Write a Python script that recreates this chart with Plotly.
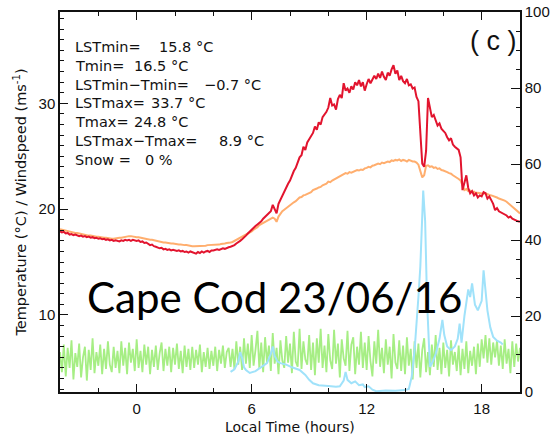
import plotly.graph_objects as go

# ---------------- data ----------------
hours = [round(-4 + 0.1 * i, 1) for i in range(241)]

lst = [
    17.9, 17.8, 17.85, 17.7, 17.75, 17.6, 17.65, 17.55, 17.6, 17.5,
    17.45, 17.5, 17.4, 17.45, 17.35, 17.4, 17.3, 17.35, 17.25, 17.3,
    17.2, 17.25, 17.15, 17.2, 17.1, 17.15, 17.05, 17.1, 17.0, 17.05,
    17.0, 16.95, 17.05, 17.0, 17.1, 17.05, 17.1, 17.0, 17.1, 17.05,
    17.0, 17.05, 16.9, 16.95, 16.8, 16.85, 16.7, 16.6, 16.65, 16.5,
    16.45, 16.35, 16.3, 16.35, 16.2, 16.25, 16.15, 16.2, 16.1, 16.15,
    16.1, 16.05, 16.1, 16.0, 16.05, 15.95, 16.0, 15.9, 16.0, 15.95,
    15.9, 15.8, 15.95, 15.85, 16.0, 15.9, 16.0, 16.05, 15.95, 16.1,
    16.1, 16.15, 16.2, 16.15, 16.25, 16.3, 16.25, 16.35, 16.4, 16.45,
    16.5, 16.6, 16.75, 16.85, 17.0, 17.15, 17.3, 17.5, 17.7, 17.9,
    18.05, 18.2, 18.4, 18.55, 18.7, 18.85, 19.1, 19.3, 19.5, 19.6,
    19.8, 20.4, 20.0, 19.6, 20.5, 20.9, 21.3, 21.6, 22.1, 22.4,
    22.7, 23.2, 23.6, 23.9, 24.5, 24.9, 25.1, 25.9, 25.6, 26.3,
    26.6, 26.9, 27.2, 27.8, 27.5, 28.2, 28.0, 28.7, 28.9, 29.2,
    29.6, 30.5, 29.8, 29.9, 29.4, 30.4, 30.8, 30.5, 31.9, 31.2,
    31.4, 31.0, 31.6, 31.3, 32.0, 31.7, 32.2, 31.6, 32.0, 31.2,
    31.8, 32.3, 31.9, 32.2, 32.6, 32.3, 32.8, 32.4, 33.0, 32.5,
    32.2, 32.9, 32.6, 33.2, 33.6, 32.8, 33.1, 32.2, 32.6, 32.1,
    31.9, 32.3, 31.7, 31.8, 31.4, 31.5, 30.6, 30.2, 27.2, 24.3,
    24.0, 25.5, 30.5, 29.6, 28.7, 28.9, 28.3, 27.9, 28.1, 27.6,
    27.4, 27.2, 26.8, 26.5, 26.7, 26.1, 25.9, 25.7, 25.6, 24.9,
    21.8, 22.5, 23.2, 22.0, 21.5, 21.7, 21.3, 21.5, 21.1, 21.3,
    21.2, 21.6, 21.5, 21.0, 21.2, 20.85, 20.5, 19.9, 20.1, 19.8,
    19.7, 19.6, 19.5, 19.4, 19.2, 19.3, 19.1, 19.0, 18.9, 18.85,
    18.8,
]

tair = [
    18.1, 18.05, 18.0, 17.95, 17.9, 17.85, 17.85, 17.8, 17.75, 17.75,
    17.7, 17.65, 17.6, 17.6, 17.55, 17.5, 17.5, 17.45, 17.4, 17.4,
    17.4, 17.35, 17.35, 17.3, 17.3, 17.25, 17.2, 17.2, 17.2, 17.25,
    17.25, 17.3, 17.3, 17.35, 17.4, 17.45, 17.45, 17.45, 17.4, 17.4,
    17.35, 17.35, 17.3, 17.3, 17.25, 17.2, 17.15, 17.1, 17.1, 17.05,
    17.0, 16.95, 16.95, 16.9, 16.85, 16.85, 16.8, 16.8, 16.75, 16.75,
    16.7, 16.7, 16.65, 16.65, 16.6, 16.6, 16.6, 16.55, 16.55, 16.5,
    16.5, 16.5, 16.5, 16.5, 16.55, 16.55, 16.55, 16.6, 16.6, 16.6,
    16.6, 16.6, 16.65, 16.65, 16.7, 16.7, 16.75, 16.8, 16.8, 16.85,
    16.9, 17.0, 17.05, 17.2, 17.25, 17.35, 17.45, 17.55, 17.65, 17.8,
    17.9, 18.05, 18.15, 18.3, 18.5, 18.6, 18.7, 18.85, 18.95, 19.05,
    19.1, 19.2, 19.1, 18.8, 19.3, 19.6, 19.8, 19.95, 20.1, 20.25,
    20.4, 20.5, 20.65, 20.75, 20.9, 21.1, 21.15, 21.3, 21.35, 21.45,
    21.55, 21.6, 21.8, 21.85, 21.95, 22.05, 22.1, 22.25, 22.3, 22.4,
    22.6, 22.55, 22.7, 22.8, 22.9, 23.0, 23.1, 23.15, 23.3, 23.4,
    23.35, 23.5, 23.45, 23.55, 23.6, 23.7, 23.65, 23.75, 23.7, 23.85,
    23.9, 24.0, 23.95, 24.1, 24.15, 24.2, 24.3, 24.25, 24.4, 24.35,
    24.45, 24.5, 24.45, 24.6, 24.55, 24.65, 24.6, 24.7, 24.55, 24.65,
    24.6, 24.5, 24.65, 24.55, 24.5, 24.5, 24.4, 24.2, 23.5, 23.0,
    23.2, 24.1, 24.15, 24.0, 24.05, 23.9, 23.95, 23.8, 23.85, 23.7,
    23.65, 23.6, 23.5, 23.4, 23.35, 23.2, 23.1, 23.0, 22.85, 22.7,
    22.2, 21.8, 21.9, 21.7, 21.75, 21.6, 21.65, 21.5, 21.55, 21.5,
    21.5, 21.45, 21.5, 21.4, 21.35, 21.3, 21.25, 21.2, 21.1, 21.0,
    20.95, 20.85, 20.8, 20.7, 20.55, 20.4, 20.25, 20.1, 19.9, 19.75,
    19.6,
]

wind = [
    6.5, 4.6, 7.2, 4.2, 6.9, 5.0, 7.6, 3.9, 6.4, 5.1,
    7.3, 4.1, 6.0, 7.0, 3.8, 6.7, 4.8, 7.8, 4.5, 6.5,
    5.2, 7.2, 4.4, 6.8, 4.9, 7.5, 5.3, 4.6, 7.0, 5.0,
    6.6, 4.5, 7.5, 5.2, 6.9, 4.4, 7.4, 5.5, 6.8, 4.7,
    7.7, 5.0, 6.6, 4.6, 7.2, 5.3, 7.0, 4.4, 6.7, 5.1,
    7.1, 4.8, 6.4, 7.4, 4.7, 6.8, 5.2, 7.0, 4.6, 6.9,
    5.3, 7.3, 4.9, 6.6, 4.5, 7.1, 5.1, 6.8, 4.8, 7.0,
    5.0, 6.7, 5.3, 7.2, 4.6, 6.5, 5.1, 6.9, 4.9, 6.6,
    5.2, 7.0, 4.7, 6.7, 5.4, 7.1, 5.0, 6.5, 6.9, 5.1,
    6.8, 4.9, 7.5, 5.3, 7.0, 4.8, 7.8, 5.4, 7.3, 5.0,
    8.1, 5.2, 6.7, 8.5, 4.9, 7.4, 4.6, 7.9, 5.5, 7.1,
    4.7, 8.3, 5.4, 6.9, 4.4, 7.6, 5.7, 5.0, 8.0, 5.5,
    7.3, 4.5, 8.4, 5.6, 5.1, 8.7, 4.9, 7.5, 5.8, 5.3,
    8.1, 4.8, 7.4, 4.3, 7.8, 5.5, 8.7, 5.0, 7.1, 4.6,
    8.2, 5.7, 4.9, 8.6, 5.4, 7.3, 4.1, 7.7, 5.9, 5.2,
    8.5, 4.7, 7.2, 7.9, 4.4, 7.0, 5.3, 8.4, 5.0, 7.4,
    4.8, 8.0, 5.6, 4.2, 7.5, 5.4, 8.6, 5.1, 6.9, 4.5,
    7.7, 5.3, 7.0, 4.0, 8.2, 5.5, 4.9, 7.6, 4.7, 7.1,
    4.4, 7.9, 5.2, 6.8, 3.9, 7.5, 5.0, 7.3, 4.1, 6.7,
    7.8, 4.6, 6.5, 4.3, 7.2, 5.1, 8.1, 4.8, 6.9, 4.4,
    7.4, 5.0, 6.7, 4.2, 7.6, 5.3, 6.5, 4.7, 7.1, 4.3,
    6.8, 4.9, 7.5, 4.5, 6.6, 5.2, 7.0, 4.4, 7.3, 5.1,
    7.7, 5.9, 8.1, 5.5, 7.8, 5.3, 7.4, 6.0, 7.6, 5.2,
    7.1, 4.9, 7.7, 5.4, 6.8, 4.5, 7.5, 5.1, 7.3, 5.6,
    6.9,
]

blue_hours = [
    4.9, 5.1, 5.3, 5.4, 5.5, 5.6, 5.7, 5.9, 6.2, 6.5, 6.8, 7.0, 7.1, 7.2,
    7.35, 7.5, 7.8, 8.1, 8.5, 8.8, 9.0, 9.2, 9.5, 10.0, 10.4, 10.6, 10.8,
    10.9, 11.0, 11.2, 11.4, 11.6, 11.8, 11.9, 12.1, 12.3, 12.5, 13.0, 13.5,
    14.0, 14.2, 14.35, 14.5, 14.7, 14.8, 14.95, 15.05, 15.15, 15.3, 15.45,
    15.6, 15.8, 15.95, 16.05, 16.2, 16.4, 16.6, 16.75, 16.85, 16.95, 17.1,
    17.3, 17.4, 17.5, 17.65, 17.8, 18.0, 18.1, 18.2, 18.3, 18.45, 18.6,
    18.8, 19.0, 19.1,
]
blue_vals = [
    5.3, 6.0, 8.0, 10.5, 9.0, 6.5, 5.8, 5.0, 5.5, 6.5, 7.6, 10.0, 12.0, 9.5,
    8.0, 7.6, 7.2, 6.5, 5.8, 4.5, 3.2, 2.3, 1.8, 1.6, 1.4, 1.5, 3.0,
    5.3, 3.2, 2.3, 2.8, 1.8, 2.0, 1.3, 1.5, 0.6, 0.2, 0.4, 0.3,
    0.5, 0.8, 4.0, 11.0, 25.0, 33.0, 53.0, 45.0, 24.0, 6.6, 8.0,
    10.0, 14.0, 19.0, 15.0, 12.0, 11.0, 12.0, 14.0, 18.0, 13.0, 20.0,
    27.0, 25.0, 28.6, 23.0, 21.5, 24.0, 32.0, 27.0, 21.5, 17.0, 14.5,
    13.5, 13.0, 12.5,
]

x_ticks = [0, 6, 12, 18]
y_ticks = [10, 20, 30]
y2_ticks = [0, 20, 40, 60, 80, 100]

stat_labels = ["LSTmin=", "Tmin=", "LSTmin\u2212Tmin=", "LSTmax=", "Tmax=",
               "LSTmax\u2212Tmax=", "Snow\u00a0=\u00a0"]
stat_values = ["15.8 \u00b0C", "16.5 \u00b0C", "\u22120.7 \u00b0C", "33.7 \u00b0C",
               "24.8 \u00b0C", "8.9 \u00b0C", "0 %"]

# ---------------- figure ----------------
fig = go.Figure()
fig.add_trace(go.Scatter(x=hours, y=wind, mode="lines",
                         line=dict(color="#A6EE84", width=1.8), yaxis="y"))
fig.add_trace(go.Scatter(x=blue_hours, y=blue_vals, mode="lines",
                         line=dict(color="#A0E2FA", width=2), yaxis="y2"))
fig.add_trace(go.Scatter(x=hours, y=tair, mode="lines",
                         line=dict(color="#FFAE6E", width=2), yaxis="y"))
fig.add_trace(go.Scatter(x=hours, y=lst, mode="lines",
                         line=dict(color="#E2142E", width=2), yaxis="y"))

L, R, T, B = 60, 34, 12, 42
W, H = 554, 434
pw, ph = W - L - R, H - T - B

def px(xp):
    return (xp - L) / pw

def py(yp):
    return (H - B - yp) / ph

font_tick = "Liberation Sans, Arial, sans-serif"
font_text = "DejaVu Sans, Verdana, sans-serif"
tickfont = dict(family=font_tick, size=15, color="#111")

fig.update_layout(
    width=W, height=H,
    margin=dict(l=L, r=R, t=T, b=B, autoexpand=False),
    paper_bgcolor="white", plot_bgcolor="white",
    showlegend=False,
    xaxis=dict(
        range=[-4, 20], tickvals=x_ticks, ticks="inside", ticklen=8,
        tickcolor="#111", tickwidth=1, showline=True, linecolor="#111",
        linewidth=1.5, mirror="ticks", showgrid=False, zeroline=False,
        tickfont=tickfont, ticklabelstandoff=2, automargin=False,
        minor=dict(dtick=2, tick0=0, ticks="inside", ticklen=4, tickcolor="#111", showgrid=False),
    ),
    yaxis=dict(
        range=[2.72, 38.63], tickvals=y_ticks, ticks="inside", ticklen=8,
        tickcolor="#111", showline=True, linecolor="#111", linewidth=1.5,
        showgrid=False, zeroline=False, tickfont=tickfont, automargin=False,
        minor=dict(dtick=1, tick0=0, ticks="inside", ticklen=4, tickcolor="#111", showgrid=False),
        title=dict(text="Temperature (\u00b0C) / Windspeed (ms<sup>-1</sup>)",
                   font=dict(family=font_text, size=14.5, color="#111"), standoff=8),
    ),
    yaxis2=dict(
        range=[0, 100], tickvals=y2_ticks, ticks="inside", ticklen=9,
        tickcolor="#111", showline=True, linecolor="#111", linewidth=1.5,
        overlaying="y", side="right", showgrid=False, zeroline=False,
        tickfont=tickfont, automargin=False,
        minor=dict(dtick=5, tick0=0, ticks="inside", ticklen=4, tickcolor="#111", showgrid=False),
    ),
)

# x-axis title placed as text below the tick labels
fig.add_annotation(xref="paper", yref="paper", x=px(290), y=py(427),
                   text="Local Time (hours)", showarrow=False,
                   xanchor="center", yanchor="middle",
                   font=dict(family=font_text, size=14, color="#111"))

# statistics text block
label_y = [47, 65.5, 84.5, 103, 122, 140.5, 159.5]
value_x = [157, 132, 202, 149, 132, 217, 143]
for i, (lab, val) in enumerate(zip(stat_labels, stat_values)):
    fig.add_annotation(xref="paper", yref="paper", x=px(73), y=py(label_y[i]),
                       text=lab, showarrow=False, xanchor="left", yanchor="middle",
                       font=dict(family=font_text, size=14.5, color="#111"))
    fig.add_annotation(xref="paper", yref="paper", x=px(value_x[i]), y=py(label_y[i]),
                       text=val, showarrow=False, xanchor="left", yanchor="middle",
                       font=dict(family=font_text, size=14.5, color="#111"))

fig.add_annotation(xref="paper", yref="paper", x=px(493), y=py(41), text="( c )",
                   showarrow=False, xanchor="center", yanchor="middle",
                   font=dict(family=font_tick, size=27, color="#111"))

fig.add_annotation(xref="paper", yref="paper", x=px(274), y=py(297),
                   text="Cape Cod 23/06/16", showarrow=False,
                   xanchor="center", yanchor="middle",
                   font=dict(family="Lato, Carlito, sans-serif", size=42, color="black"))

fig.write_html("out.html")
